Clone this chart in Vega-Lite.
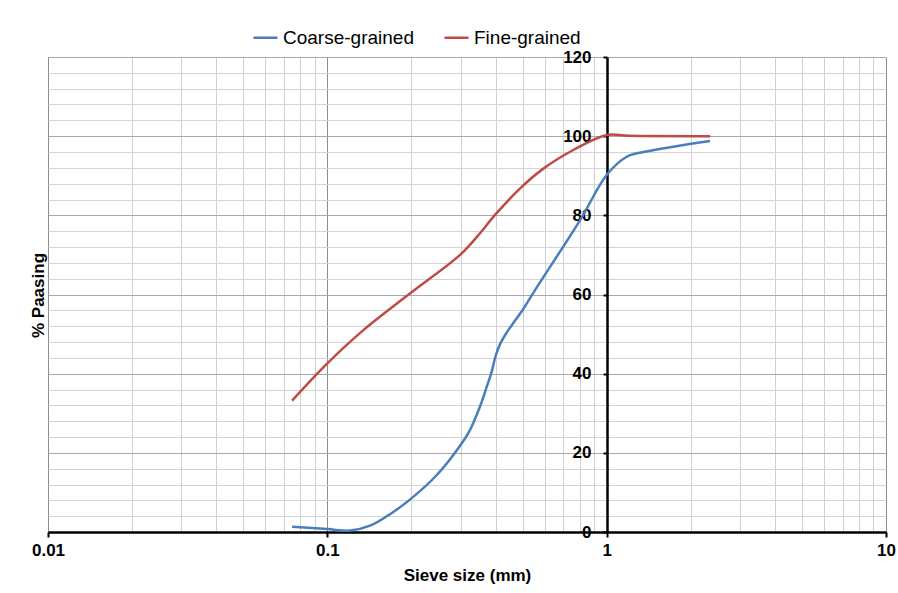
{
  "$schema": "https://vega.github.io/schema/vega-lite/v6.json",
  "width": 838,
  "height": 475,
  "autosize": "none",
  "padding": {"left": 48, "top": 57, "right": 12, "bottom": 61},
  "background": "white",
  "config": {
    "font": "Liberation Sans",
    "view": {"stroke": "#b8b8b8", "strokeWidth": 1}
  },
  "data": {
    "values": [
      {"size": 0.0748, "pass": 1.3, "type": "Coarse-grained"},
      {"size": 0.1, "pass": 0.75, "type": "Coarse-grained"},
      {"size": 0.1206, "pass": 0.35, "type": "Coarse-grained"},
      {"size": 0.1422, "pass": 1.6, "type": "Coarse-grained"},
      {"size": 0.1677, "pass": 4.5, "type": "Coarse-grained"},
      {"size": 0.2, "pass": 8.5, "type": "Coarse-grained"},
      {"size": 0.2465, "pass": 14.4, "type": "Coarse-grained"},
      {"size": 0.3, "pass": 22.0, "type": "Coarse-grained"},
      {"size": 0.3243, "pass": 25.8, "type": "Coarse-grained"},
      {"size": 0.352, "pass": 31.7, "type": "Coarse-grained"},
      {"size": 0.3722, "pass": 36.7, "type": "Coarse-grained"},
      {"size": 0.3879, "pass": 40.6, "type": "Coarse-grained"},
      {"size": 0.4, "pass": 44.4, "type": "Coarse-grained"},
      {"size": 0.415, "pass": 47.4, "type": "Coarse-grained"},
      {"size": 0.4388, "pass": 50.4, "type": "Coarse-grained"},
      {"size": 0.5, "pass": 56.1, "type": "Coarse-grained"},
      {"size": 0.554, "pass": 61.1, "type": "Coarse-grained"},
      {"size": 0.8034, "pass": 78.8, "type": "Coarse-grained"},
      {"size": 1.0, "pass": 90.2, "type": "Coarse-grained"},
      {"size": 1.18, "pass": 94.8, "type": "Coarse-grained"},
      {"size": 1.353, "pass": 96.0, "type": "Coarse-grained"},
      {"size": 2.345, "pass": 98.8, "type": "Coarse-grained"},
      {"size": 0.0748, "pass": 33.2, "type": "Fine-grained"},
      {"size": 0.1, "pass": 42.6, "type": "Fine-grained"},
      {"size": 0.1346, "pass": 51.0, "type": "Fine-grained"},
      {"size": 0.198, "pass": 60.3, "type": "Fine-grained"},
      {"size": 0.2986, "pass": 70.0, "type": "Fine-grained"},
      {"size": 0.3473, "pass": 75.0, "type": "Fine-grained"},
      {"size": 0.3984, "pass": 80.1, "type": "Fine-grained"},
      {"size": 0.49, "pass": 86.8, "type": "Fine-grained"},
      {"size": 0.5935, "pass": 91.8, "type": "Fine-grained"},
      {"size": 0.76, "pass": 96.5, "type": "Fine-grained"},
      {"size": 1.0, "pass": 100.3, "type": "Fine-grained"},
      {"size": 1.2, "pass": 100.1, "type": "Fine-grained"},
      {"size": 2.345, "pass": 100.0, "type": "Fine-grained"}
    ]
  },
  "mark": {"type": "line", "interpolate": "catmull-rom", "strokeWidth": 2.5, "clip": true},
  "encoding": {
    "x": {
      "field": "size",
      "type": "quantitative",
      "scale": {"type": "log", "domain": [0.01, 10], "nice": false},
      "axis": {
        "title": "Sieve size (mm)",
        "titleFontSize": 17,
        "titleFontWeight": "bold",
        "titleColor": "black",
        "titlePadding": 9,
        "values": [0.01, 0.02, 0.03, 0.04, 0.05, 0.06, 0.07, 0.08, 0.09, 0.1, 0.2, 0.3, 0.4, 0.5, 0.6, 0.7, 0.8, 0.9, 1, 2, 3, 4, 5, 6, 7, 8, 9, 10],
        "format": "~g",
        "labelExpr": "abs(log(datum.value)/LN10 - round(log(datum.value)/LN10)) < 0.001 ? datum.label : ''",
        "labelFontSize": 17,
        "labelFontWeight": "bold",
        "labelColor": "black",
        "labelFlush": false,
        "labelOverlap": false,
        "labelBound": false,
        "labelPadding": 5,
        "domainColor": "black",
        "domainWidth": 2.5,
        "tickColor": "black",
        "tickWidth": 2,
        "tickSize": 5,
        "tickOpacity": {"condition": {"test": "abs(log(datum.value)/LN10 - round(log(datum.value)/LN10)) < 0.001", "value": 1}, "value": 0},
        "grid": true,
        "gridColor": {"condition": {"test": "abs(log(datum.value)/LN10 - round(log(datum.value)/LN10)) < 0.001", "value": "#8c8c8c"}, "value": "#d0d0d0"},
        "gridWidth": 1
      }
    },
    "y": {
      "field": "pass",
      "type": "quantitative",
      "scale": {"domain": [0, 120], "nice": false},
      "axis": {
        "title": "% Paasing",
        "titleFontSize": 17,
        "titleFontWeight": "bold",
        "titleColor": "black",
        "titleX": -569,
        "titleY": 238,
        "titleAngle": -90,
        "titleAlign": "center",
        "titleBaseline": "middle",
        "offset": -559,
        "values": [0, 4, 8, 12, 16, 20, 24, 28, 32, 36, 40, 44, 48, 52, 56, 60, 64, 68, 72, 76, 80, 84, 88, 92, 96, 100, 104, 108, 112, 116, 120],
        "labelExpr": "datum.value % 20 === 0 ? datum.label : ''",
        "labelFontSize": 17,
        "labelFontWeight": "bold",
        "labelColor": "black",
        "labelPadding": 12,
        "labelOverlap": false,
        "domainColor": "black",
        "domainWidth": 2.5,
        "tickColor": "black",
        "tickWidth": 2,
        "tickSize": 4,
        "tickOpacity": {"condition": {"test": "datum.value % 20 === 0", "value": 1}, "value": 0},
        "grid": true,
        "gridColor": {"condition": {"test": "datum.value % 20 === 0", "value": "#a8a8a8"}, "value": "#d4d4d4"},
        "gridWidth": 1
      }
    },
    "color": {
      "field": "type",
      "type": "nominal",
      "scale": {"domain": ["Coarse-grained", "Fine-grained"], "range": ["#4A7EBB", "#BE4B48"]},
      "legend": {
        "title": null,
        "orient": "none",
        "direction": "horizontal",
        "legendX": 204,
        "legendY": -33,
        "padding": 0,
        "symbolType": "stroke",
        "symbolSize": 576,
        "symbolStrokeWidth": 2.5,
        "labelFontSize": 19,
        "labelColor": "black",
        "labelOffset": 4,
        "columnPadding": 25
      }
    }
  }
}
